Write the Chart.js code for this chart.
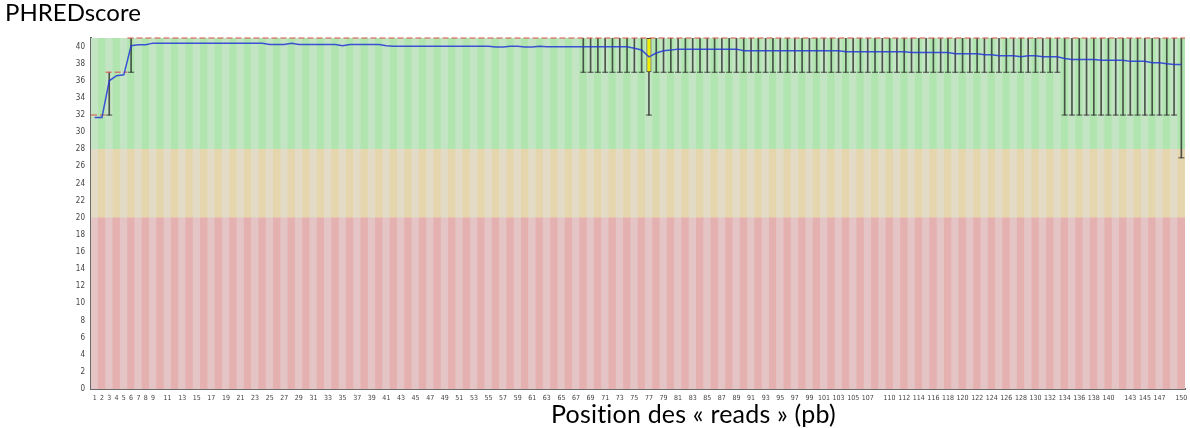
<!DOCTYPE html>
<html><head><meta charset="utf-8">
<script src="https://cdn.jsdelivr.net/npm/chart.js@4.4.0/dist/chart.umd.min.js"></script>
<style>
html,body{margin:0;padding:0;background:#fff;}
#wrap{position:relative;width:1190px;height:428px;overflow:hidden;}
#c{position:absolute;left:0;top:0;}
.t{position:absolute;font-family:Lato,"Open Sans",sans-serif;color:#000;white-space:nowrap;line-height:1;}
</style></head><body>
<div id="wrap"><canvas id="c" width="1190" height="428"></canvas>
<div class="t" style="left:5px;top:0px;font-size:24px;">PHREDscore</div>
<div class="t" style="left:551px;top:401px;font-size:25px;letter-spacing:0.2px;">Position des « reads » (pb)</div>
</div>
<script>
// ---- data ----
const positions = Array.from({length:150}, (_, i) => i + 1);
const shownTickLabels = ['1','2','3','4','5','6','7','8','9',
 '11','13','15','17','19','21','23','25','27','29','31','33','35','37','39','41','43','45','47','49',
 '51','53','55','57','59','61','63','65','67','69','71','73','75','77','79','81','83','85','87','89',
 '91','93','95','97','99','101','103','105','107',
 '110','112','114','116','118','120','122','124','126','128','130','132','134','136','138','140',
 '143','145','147','150'];
const yTickValues = [0,2,4,6,8,10,12,14,16,18,20,22,24,26,28,30,32,34,36,38,40];
const zoneLimits = [0, 20, 28, 41];

const meanQuality = [
 31.7,31.7,36.0,36.6,36.7,40.1,40.2,40.2,40.4,40.4,
 40.4,40.4,40.4,40.4,40.4,40.4,40.4,40.4,40.4,40.4,
 40.4,40.4,40.4,40.4,40.25,40.25,40.25,40.4,40.25,40.25,
 40.25,40.25,40.25,40.25,40.1,40.25,40.25,40.25,40.25,40.25,
 40.1,40.03,40.03,40.03,40.03,40.03,40.03,40.03,40.03,40.03,
 40.03,40.03,40.03,40.03,40.03,39.95,39.95,40.03,40.03,39.95,
 39.95,40.03,39.97,39.97,39.97,39.97,39.97,39.97,39.97,39.97,
 39.97,39.97,39.97,39.97,39.8,39.6,38.8,39.25,39.5,39.6,
 39.7,39.7,39.7,39.7,39.7,39.7,39.7,39.7,39.7,39.5,
 39.5,39.5,39.5,39.5,39.5,39.5,39.5,39.5,39.5,39.5,
 39.5,39.5,39.5,39.4,39.4,39.4,39.4,39.4,39.4,39.4,
 39.4,39.4,39.3,39.3,39.3,39.3,39.3,39.3,39.15,39.15,
 39.15,39.15,39.05,39.05,38.94,38.94,38.94,38.8,38.94,38.94,
 38.8,38.8,38.8,38.6,38.5,38.5,38.5,38.5,38.4,38.4,
 38.4,38.4,38.27,38.27,38.27,38.1,38.1,38.0,37.9,37.9];

const medianQuality = [
 32,32,37,37,37,41,41,41,41,41,
 41,41,41,41,41,41,41,41,41,41, 41,41,41,41,41,41,41,41,41,41,
 41,41,41,41,41,41,41,41,41,41, 41,41,41,41,41,41,41,41,41,41,
 41,41,41,41,41,41,41,41,41,41, 41,41,41,41,41,41,41,41,41,41,
 41,41,41,41,41,41,41,41,41,41, 41,41,41,41,41,41,41,41,41,41,
 41,41,41,41,41,41,41,41,41,41, 41,41,41,41,41,41,41,41,41,41,
 41,41,41,41,41,41,41,41,41,41, 41,41,41,41,41,41,41,41,41,41,
 41,41,41,41,41,41,41,41,41,41, 41,41,41,41,41,41,41,41,41,41];

const q25Quality = [
 32,32,37,37,37,41,41,41,41,41,
 41,41,41,41,41,41,41,41,41,41, 41,41,41,41,41,41,41,41,41,41,
 41,41,41,41,41,41,41,41,41,41, 41,41,41,41,41,41,41,41,41,41,
 41,41,41,41,41,41,41,41,41,41, 41,41,41,41,41,41,41,41,41,41,
 41,41,41,41,41,41,37,41,41,41, 41,41,41,41,41,41,41,41,41,41,
 41,41,41,41,41,41,41,41,41,41, 41,41,41,41,41,41,41,41,41,41,
 41,41,41,41,41,41,41,41,41,41, 41,41,41,41,41,41,41,41,41,41,
 41,41,41,41,41,41,41,41,41,41, 41,41,41,41,41,41,41,41,41,41];

const q75Quality = [
 32,32,37,37,37,41,41,41,41,41,
 41,41,41,41,41,41,41,41,41,41, 41,41,41,41,41,41,41,41,41,41,
 41,41,41,41,41,41,41,41,41,41, 41,41,41,41,41,41,41,41,41,41,
 41,41,41,41,41,41,41,41,41,41, 41,41,41,41,41,41,41,41,41,41,
 41,41,41,41,41,41,41,41,41,41, 41,41,41,41,41,41,41,41,41,41,
 41,41,41,41,41,41,41,41,41,41, 41,41,41,41,41,41,41,41,41,41,
 41,41,41,41,41,41,41,41,41,41, 41,41,41,41,41,41,41,41,41,41,
 41,41,41,41,41,41,41,41,41,41, 41,41,41,41,41,41,41,41,41,41];

const p10Quality = [
 32,32,32,37,37,37,41,41,41,41,
 41,41,41,41,41,41,41,41,41,41, 41,41,41,41,41,41,41,41,41,41,
 41,41,41,41,41,41,41,41,41,41, 41,41,41,41,41,41,41,41,41,41,
 41,41,41,41,41,41,41,41,41,41,
 41,41,41,41,41,41,41,37,37,37,
 37,37,37,37,37,37,32,37,37,37,
 37,37,37,37,37,37,37,37,37,37, 37,37,37,37,37,37,37,37,37,37,
 37,37,37,37,37,37,37,37,37,37, 37,37,37,37,37,37,37,37,37,37,
 37,37,37,37,37,37,37,37,37,37,
 37,37,37,32,32,32,32,32,32,32,
 32,32,32,32,32,32,32,32,32,27];

const p90Quality = [
 32,32,37,37,37,41,41,41,41,41,
 41,41,41,41,41,41,41,41,41,41, 41,41,41,41,41,41,41,41,41,41,
 41,41,41,41,41,41,41,41,41,41, 41,41,41,41,41,41,41,41,41,41,
 41,41,41,41,41,41,41,41,41,41, 41,41,41,41,41,41,41,41,41,41,
 41,41,41,41,41,41,41,41,41,41, 41,41,41,41,41,41,41,41,41,41,
 41,41,41,41,41,41,41,41,41,41, 41,41,41,41,41,41,41,41,41,41,
 41,41,41,41,41,41,41,41,41,41, 41,41,41,41,41,41,41,41,41,41,
 41,41,41,41,41,41,41,41,41,41, 41,41,41,41,41,41,41,41,41,41];

// ---- derived structures (x = read position) ----
const meanPts = meanQuality.map((v, i) => ({x: positions[i], y: v}));
const whiskerData = p10Quality.map((lo, i) => ({x: positions[i], y: lo < p90Quality[i] ? [lo, p90Quality[i]] : null}));
const capData = p10Quality.map((lo, i) => ({x: positions[i], y: lo < p90Quality[i] ? lo : null}));
const boxData = q25Quality.map((lo, i) => ({x: positions[i], y: lo < q75Quality[i] ? [lo, q75Quality[i]] : null}));
const medianPts = [];
medianQuality.forEach((m, i) => {
  const p = positions[i];
  medianPts.push({x: p - 0.5, y: m}, {x: p + 0.5, y: m});
  if (i < medianQuality.length - 1 && medianQuality[i + 1] !== m) medianPts.push({x: p + 0.5, y: null});
});
const zoneColors = [
  ['rgb(228,196,196)', 'rgb(229,176,176)'],
  ['rgb(228,219,198)', 'rgb(229,214,174)'],
  ['rgb(196,229,196)', 'rgb(176,229,176)']
];
const zoneSets = [0, 1, 2].map(z => ({
  type: 'bar',
  data: positions.map(p => ({x: p, y: [zoneLimits[z], zoneLimits[z + 1]]})),
  backgroundColor: ctx => zoneColors[z][ctx.dataIndex % 2],
  borderWidth: 0, grouped: false, barPercentage: 1, categoryPercentage: 1, order: 10
}));

const tickFontX = {family: "'Liberation Sans Narrow', 'DejaVu Sans Condensed', 'DejaVu Sans'", size: 7};
const tickFontY = {family: "'Liberation Sans Narrow', 'DejaVu Sans Condensed', 'DejaVu Sans'", size: 8};

new Chart(document.getElementById('c'), {
  type: 'bar',
  data: {
    datasets: [
      {type: 'line', data: meanPts, borderColor: 'rgba(35,55,215,0.85)', borderWidth: 1.5,
       pointRadius: 0, tension: 0, order: 1},
      {type: 'line', data: medianPts, borderColor: 'rgba(215,95,85,0.75)', borderWidth: 1.5,
       borderDash: [6, 3], pointRadius: 0, spanGaps: false, clip: false, order: 2},
      {type: 'line', data: capData, showLine: false, pointStyle: 'line', pointRadius: 3,
       pointBorderColor: 'rgba(40,40,40,0.8)', pointBorderWidth: 1, borderColor: 'rgba(40,40,40,0.8)', order: 3},
      {type: 'bar', data: boxData, backgroundColor: 'rgb(240,238,0)', borderColor: 'rgb(60,60,40)', borderWidth: 1,
       borderSkipped: false, grouped: false, barPercentage: 0.7, categoryPercentage: 1, order: 4},
      {type: 'bar', data: whiskerData, backgroundColor: 'rgba(35,35,35,0.75)', barThickness: 1,
       grouped: false, order: 5},
      ...zoneSets
    ]
  },
  options: {
    responsive: false, animation: false,
    layout: {padding: {left: 0, right: 3, top: 38, bottom: 0}},
    plugins: {legend: {display: false}, tooltip: {enabled: false}},
    scales: {
      x: {
        type: 'linear', min: 0.5, max: 150.5, offset: false,
        grid: {display: false, drawTicks: false},
        border: {display: true, color: '#6a6a6a', width: 2},
        ticks: {autoSkip: false, maxRotation: 0, minRotation: 0, padding: 5, color: '#444', font: tickFontX,
          callback: v => String(v)},
        afterBuildTicks: s => { s.ticks = shownTickLabels.map(l => ({value: Number(l)})); },
        afterFit: s => { s.height = 39; s.paddingRight = 0; s.paddingLeft = 0; }
      },
      y: {
        type: 'linear', min: 0, max: 41,
        grid: {display: false, drawTicks: false},
        border: {display: true, color: '#6a6a6a', width: 2},
        ticks: {padding: 6, color: '#444', font: tickFontY},
        afterBuildTicks: s => { s.ticks = yTickValues.map(v => ({value: v})); },
        afterFit: s => { s.width = 91; s.paddingTop = 0; s.paddingBottom = 0; }
      }
    }
  }
});
</script>
</body></html>
